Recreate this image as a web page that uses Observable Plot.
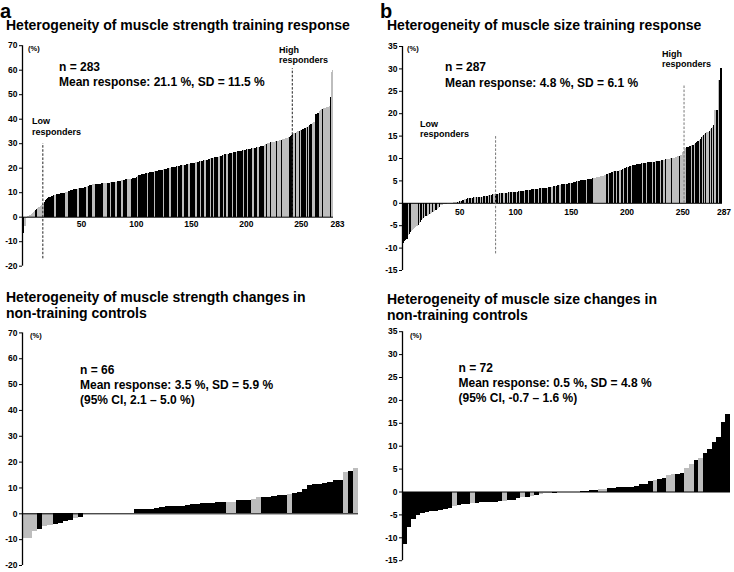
<!DOCTYPE html>
<html><head><meta charset="utf-8">
<script src="https://cdn.jsdelivr.net/npm/d3@7"></script>
<script src="https://cdn.jsdelivr.net/npm/@observablehq/plot@0.6"></script>
<style>
body{margin:0;background:#fff;}
#root{position:relative;width:734px;height:572px;overflow:hidden;font-family:"Liberation Sans",Arial,sans-serif;color:#000;}
.t{position:absolute;white-space:nowrap;color:#000;}
</style></head><body><div id="root"></div>
<script>
// ---- data (sorted individual % changes, shade k = black, g = grey) ----
const strengthTrainingChange = [
-7.5,-6.5,-3.8,-3.6,-0.5,0.2,0.5,0.8,1.0,1.5,
2.0,2.2,2.8,3.0,3.5,4.0,4.4,4.8,5.0,5.2,
6.0,6.8,7.3,7.7,8.0,8.2,8.3,8.5,8.7,8.9,
9.0,9.1,9.2,9.3,9.4,9.5,9.6,9.7,9.8,9.9,
10.0,10.2,10.4,10.6,10.9,11.1,11.3,11.4,11.4,11.5,
11.5,11.6,11.6,11.7,11.8,11.9,12.0,12.1,12.2,12.4,
12.6,12.8,13.0,13.1,13.2,13.2,13.3,13.3,13.4,13.4,
13.5,13.5,13.6,13.6,13.7,13.7,13.8,13.8,13.9,13.9,
14.0,14.1,14.2,14.2,14.3,14.3,14.4,14.5,14.6,14.7,
14.8,14.9,15.0,15.1,15.2,15.3,15.3,15.4,15.5,15.5,
15.6,15.6,15.7,16.0,16.3,16.6,16.9,17.1,17.3,17.4,
17.5,17.6,17.7,17.8,17.9,18.0,18.1,18.2,18.3,18.4,
18.5,18.6,18.7,18.8,18.9,19.0,19.1,19.2,19.3,19.4,
19.5,19.6,19.7,19.8,19.9,20.0,20.1,20.2,20.3,20.4,
20.5,20.6,20.7,20.8,20.9,21.0,21.1,21.2,21.3,21.4,
21.5,21.6,21.7,21.8,21.9,22.0,22.1,22.2,22.3,22.4,
22.5,22.6,22.7,22.8,22.9,23.0,23.1,23.2,23.3,23.5,
23.7,23.8,23.9,24.0,24.1,24.2,24.3,24.4,24.5,24.6,
24.7,24.8,25.0,25.2,25.4,25.5,25.6,25.7,25.8,26.0,
26.1,26.2,26.3,26.4,26.5,26.6,26.7,26.8,26.9,27.0,
27.1,27.2,27.3,27.4,27.5,27.6,27.7,27.8,27.9,27.9,
28.0,28.1,28.2,28.3,28.4,28.5,28.6,28.7,28.8,29.0,
29.3,29.6,29.8,30.0,30.1,30.2,30.3,30.4,30.5,30.6,
30.7,30.8,31.0,31.1,31.2,31.4,31.5,31.6,31.8,32.0,
32.1,32.3,32.5,32.7,32.9,33.2,33.6,34.0,34.3,34.6,
34.8,35.0,35.1,35.3,35.5,35.7,35.9,36.2,36.5,36.8,
37.1,37.4,37.7,38.0,38.3,38.5,38.8,42.0,42.2,42.5,
43.0,43.5,43.8,44.0,44.2,44.4,44.5,44.7,44.8,45.0,
48.8,59.0,60.0];
const strengthTrainingShade =
"kkggggggggggkkggggggkkkkkkkkkggkkkkkkkkgggkkkkkkkkggkkkkkkggkkkkggkkkkkkkkgggkkk" +
"gkkkkgkkkkggkkkkgggkkkkkkgkkkkkkkkgkkkkkgkkkkkkkgkkkkkggkkkkkgkkkkgkkkkggkkkkggk" +
"kkgkkkgkkkkgkkgkkkggkkkgkkgkkkkgkkkgkkkkkgkkkgkkkggkkkggkkkkggkgggkggggkggggkggg" +
"gggkkkkgkgggkgkkkkgkgkkkgggkkkgggkggggggkgg";

const sizeTrainingChange = [
-9.1,-9.0,-8.6,-8.3,-8.0,-7.2,-6.9,-6.6,-6.2,-6.0,
-5.9,-5.7,-5.5,-5.2,-4.9,-4.6,-4.2,-3.9,-3.6,-3.4,
-3.2,-3.0,-2.9,-2.8,-2.6,-2.5,-2.3,-2.1,-2.0,-1.8,
-1.6,-1.3,-1.1,-0.9,-0.6,-0.5,-0.4,-0.3,-0.2,-0.2,
-0.1,-0.1,0,0,0,0,0.1,0.1,0.1,0.2,
0.2,0.3,0.3,0.4,0.6,0.7,0.8,0.9,1.0,1.0,
1.0,1.1,1.1,1.1,1.2,1.2,1.2,1.3,1.3,1.3,
1.4,1.4,1.4,1.5,1.5,1.6,1.6,1.7,1.7,1.8,
1.8,1.9,1.9,2.0,2.0,2.0,2.0,2.1,2.1,2.1,
2.1,2.2,2.2,2.2,2.2,2.3,2.3,2.3,2.4,2.4,
2.4,2.5,2.5,2.5,2.6,2.6,2.6,2.7,2.7,2.7,
2.8,2.8,2.8,2.9,2.9,2.9,3.0,3.0,3.0,3.0,
3.1,3.1,3.1,3.2,3.2,3.2,3.3,3.3,3.4,3.4,
3.4,3.5,3.5,3.6,3.6,3.7,3.7,3.8,3.8,3.9,
3.9,4.0,4.0,4.1,4.1,4.2,4.2,4.3,4.3,4.4,
4.4,4.5,4.5,4.6,4.6,4.7,4.8,4.8,4.9,4.9,
5.0,5.0,5.1,5.1,5.2,5.2,5.3,5.3,5.4,5.4,
5.5,5.5,5.6,5.6,5.7,5.7,5.8,5.8,5.9,5.9,
6.0,6.2,6.3,6.4,6.5,6.6,6.7,6.8,6.9,7.0,
7.0,7.1,7.1,7.2,7.2,7.3,7.4,7.5,7.6,7.7,
7.8,7.9,8.0,8.1,8.2,8.3,8.4,8.4,8.5,8.5,
8.6,8.6,8.7,8.7,8.8,8.8,8.8,8.9,8.9,8.9,
9.0,9.0,9.0,9.1,9.1,9.2,9.2,9.3,9.3,9.4,
9.4,9.4,9.5,9.5,9.6,9.6,9.7,9.7,9.8,9.8,
9.9,10.0,10.0,10.1,10.1,10.2,10.3,10.4,10.5,10.6,
10.7,11.3,11.6,11.9,12.2,12.4,12.5,12.6,12.7,12.8,
12.9,13.0,13.1,13.3,13.5,13.7,14.0,14.3,14.6,14.9,
15.1,15.3,15.5,15.7,15.9,16.1,16.4,16.7,17.0,17.3,
20.7,20.7,20.8,27.3,27.3,30.0,30.0];
const sizeTrainingShade =
"kkkkkgkkggggggkgkkgkgkggkggkggkggkgggggggggggggggkgkgkkkgkkgkkgkkgkgkkgkgkgkkgkg" +
"kkgkkkgkgkkgkkgkgkkgkkgkkgkkkgkkkgkkkkgkkkgkkgkkkkgkkkgkkgkkkggkkkgkkkkgkkkkkgkk" +
"kkkkkgkkkkkggggggggggggkkgkkkgkkgkkgkkgkkkgkkgkkkkkkkkkgkkkgkkkkgkkgkkkgkkggkgggg" +
"kggggggkggggggkkkkgkkgkkkgkkgkgkggkgkgkggkgkkkgkggk";

const strengthControlChange = [
-9.6,-9.4,-7.0,-6.2,-5.0,-4.5,-4.0,-3.8,-2.8,-2.5,
-1.8,-1.5,0,0,0,0,0,0,0,0,
0,0,1.5,1.6,1.7,1.8,2.0,2.6,2.7,2.8,
2.8,2.9,3.2,3.5,3.7,3.9,4.0,4.1,4.2,4.3,
4.4,4.5,5.0,5.1,5.1,5.6,6.2,6.3,6.5,6.7,
6.9,7.0,7.5,8.0,8.3,9.5,10.8,11.3,11.5,11.8,
12.0,12.8,13.0,16.0,16.5,17.5];
const strengthControlShade =
"gggkggkkkkgkkkkkkkkkkkkkkkkkkkkkkkkkkkkkggkkkggkkkkkgkkkkkkkkkkgkg";

const sizeControlChange = [
-11.5,-7.8,-6.1,-5.1,-4.6,-4.4,-4.3,-4.2,-4.1,-3.9,
-3.7,-3.2,-3.0,-2.8,-2.7,-2.6,-2.5,-2.4,-2.4,-2.3,
-2.2,-2.1,-2.0,-1.9,-1.8,-1.5,-1.2,-1.2,-0.9,-0.8,
-0.5,-0.4,-0.3,-0.3,-0.2,-0.1,-0.1,0,0,0.1,
0.1,0.4,0.4,0.5,0.5,0.7,0.8,0.9,0.9,1.0,
1.0,1.1,1.6,1.7,2.3,2.6,2.8,2.9,3.5,3.8,
3.9,4.1,5.2,6.1,6.9,7.4,8.5,9.2,10.7,12.0,
15.2,17.0];
const sizeControlShade =
"kkkkkkkkkkkgkkkgkkkkkkgkkkgkgkgggkgkkkkkkkkggkkkkkkkkkkgkkggkkggkgkkkkkk";

// axis ticks
const strengthYTicks = [-20,-10,0,10,20,30,40,50,60,70];
const sizeYTicks = [-15,-10,-5,0,5,10,15,20,25,30,35];
const strengthTrainingXTicks = [50,100,150,200,250,283];
const sizeTrainingXTicks = [50,100,150,200,250,287];

// responder cut-offs (rank, dashed line extent in %)
const strengthCutRank = [18.5, 245.5];
const strengthCutFrom = [-17, 0];
const strengthCutTo = [30, 60.6];
const sizeCutRank = [83.5, 252.5];
const sizeCutFrom = [-11.3, 0];
const sizeCutTo = [15, 26.4];

// ---- drawing ----
const root = document.getElementById("root");
const FONT = '"Liberation Sans", Arial, Helvetica, sans-serif';

function panel(o) {
  const data = o.values.map((v, i) => ({rank: i + 1, value: v, shade: o.shades[i]}));
  const marks = [
    Plot.rect(data, {x1: d => d.rank - 1, x2: d => d.rank, y1: d => 0, y2: d => d.value,
      fill: d => d.shade, shapeRendering: "crispEdges"}),
    Plot.ruleY([0], {stroke: "#000", strokeWidth: 1}),
    Plot.ruleX([0], {stroke: "#000", strokeWidth: 1.3})
  ];
  if (o.cuts) {
    const cuts = o.cuts.rank.map((r, i) => ({rank: r, from: o.cuts.from[i], to: o.cuts.to[i]}));
    marks.push(Plot.ruleX(cuts, {x: "rank", y1: "from", y2: "to", stroke: o.cutStroke,
      strokeWidth: 1, strokeDasharray: "2.5,1.6"}));
  }
  if (o.xTicks) {
    marks.push(Plot.text(o.xTicks, {x: d => d, y: d => 0, text: d => String(d),
      dx: o.xDx, dy: o.xDy, fontWeight: "bold", fontSize: 8.5, fill: "#000"}));
  }
  const svg = Plot.plot({
    width: o.width, height: o.height,
    marginTop: o.mt, marginBottom: o.mb, marginLeft: o.ml, marginRight: o.mr,
    x: {domain: [0, o.values.length], axis: null},
    y: {domain: o.yDomain, ticks: o.yTicks, tickSize: 3, tickPadding: 2,
        tickFormat: d => String(d), label: null},
    color: {domain: ["k", "g"], range: ["#000000", "#bdbdbd"]},
    style: {fontFamily: FONT, fontSize: "8.5px", fontWeight: "bold", background: "transparent",
            overflow: "visible", color: "#000"},
    marks
  });
  svg.style.position = "absolute";
  svg.style.left = o.left + "px";
  svg.style.top = o.top + "px";
  root.appendChild(svg);
}

panel({values: strengthTrainingChange, shades: strengthTrainingShade, yDomain: [-20, 70], yTicks: strengthYTicks,
  xTicks: strengthTrainingXTicks, xDx: 4, xDy: 7.5,
  cuts: {rank: strengthCutRank, from: strengthCutFrom, to: strengthCutTo}, cutStroke: "#222",
  left: 0, top: 35, width: 367, height: 245, mt: 10.2, mb: 14.3, ml: 22, mr: 34});

panel({values: sizeTrainingChange, shades: sizeTrainingShade, yDomain: [-15, 35], yTicks: sizeYTicks,
  xTicks: sizeTrainingXTicks, xDx: 1.5, xDy: 9,
  cuts: {rank: sizeCutRank, from: sizeCutFrom, to: sizeCutTo}, cutStroke: "#777",
  left: 367, top: 35, width: 367, height: 245, mt: 11, mb: 10, ml: 35, mr: 12});

panel({values: strengthControlChange, shades: strengthControlShade, yDomain: [-20, 70], yTicks: strengthYTicks,
  left: 0, top: 325, width: 367, height: 247, mt: 7.4, mb: 7, ml: 22, mr: 9});

panel({values: sizeControlChange, shades: sizeControlShade, yDomain: [-15, 35], yTicks: sizeYTicks,
  left: 367, top: 325, width: 367, height: 247, mt: 6.2, mb: 11.8, ml: 35, mr: 4});

// ---- text ----
function label(lines, left, baseline, fs, lh, weight) {
  const d = document.createElement("div");
  d.className = "t";
  d.style.left = left + "px";
  d.style.top = (baseline - ((lh - 1.117 * fs) / 2 + 0.905 * fs)) + "px";
  d.style.fontSize = fs + "px";
  d.style.lineHeight = lh + "px";
  d.style.fontWeight = weight;
  lines.forEach((s, i) => {
    if (i) d.appendChild(document.createElement("br"));
    d.appendChild(document.createTextNode(s));
  });
  root.appendChild(d);
}

label(["a"], 0, 18, 20, 15, "bold");
label(["b"], 380, 18, 20, 15, "bold");
label(["Heterogeneity of muscle strength training response"], 6, 30, 14, 12, "bold");
label(["Heterogeneity of muscle size training response"], 387, 30, 14, 12, "bold");
label(["Heterogeneity of muscle strength changes in", "non-training controls"], 6, 302, 14, 16, "bold");
label(["Heterogeneity of muscle size changes in", "non-training controls"], 387, 304, 14, 16, "bold");

label(["n = 283", "Mean response: 21.1 %, SD = 11.5 %"], 59, 71.5, 12, 15, "bold");
label(["n = 287", "Mean response: 4.8 %, SD = 6.1 %"], 445, 72, 12, 15.5, "bold");
label(["n = 66", "Mean response: 3.5 %, SD = 5.9 %", "(95% CI, 2.1 \u2013 5.0 %)"], 80, 374.5, 12, 15, "bold");
label(["n = 72", "Mean response: 0.5 %, SD = 4.8 %", "(95% CI, -0.7 \u2013 1.6 %)"], 458.5, 373, 12, 15, "bold");

label(["Low", "responders"], 32, 124.5, 9, 10.5, "bold");
label(["High", "responders"], 279, 53, 9, 10.5, "bold");
label(["Low", "responders"], 420, 127, 9, 10.5, "bold");
label(["High", "responders"], 662, 57, 9, 10.5, "bold");

label(["(%)"], 28, 51.5, 7.5, 9, "bold");
label(["(%)"], 407, 51.5, 7.5, 9, "bold");
label(["(%)"], 30, 338.5, 7.5, 9, "bold");
label(["(%)"], 410, 338, 7.5, 9, "bold");
</script></body></html>
